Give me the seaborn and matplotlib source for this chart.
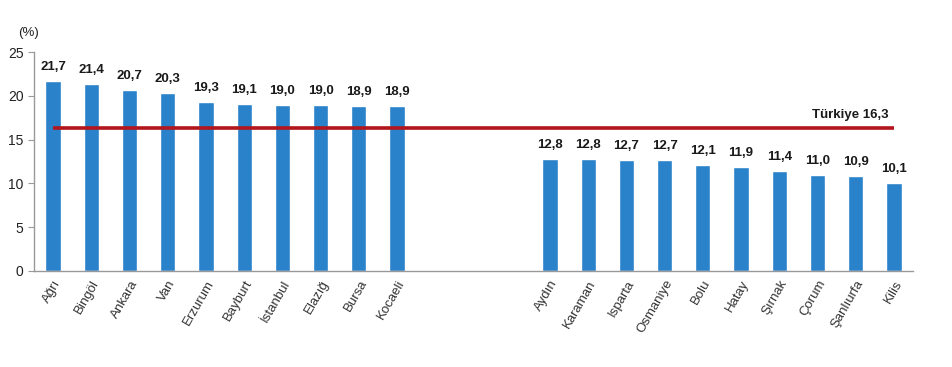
import pandas as pd
import numpy as np
import matplotlib.pyplot as plt
import seaborn as sns

# Veriler
iller_ust = ["Ağrı", "Bingöl", "Ankara", "Van", "Erzurum", "Bayburt", "İstanbul",
             "Elazığ", "Bursa", "Kocaeli"]
oran_ust = [21.7, 21.4, 20.7, 20.3, 19.3, 19.1, 19.0, 19.0, 18.9, 18.9]
iller_alt = ["Aydın", "Karaman", "Isparta", "Osmaniye", "Bolu", "Hatay", "Şırnak",
             "Çorum", "Şanlıurfa", "Kilis"]
oran_alt = [12.8, 12.8, 12.7, 12.7, 12.1, 11.9, 11.4, 11.0, 10.9, 10.1]
bosluk = [" ", "  ", "   "]
turkiye = 16.3

kategoriler = iller_ust + bosluk + iller_alt
degerler = oran_ust + [np.nan] * len(bosluk) + oran_alt
df = pd.DataFrame({"il": kategoriler, "oran": degerler})

sns.set_style("white")
plt.rcParams["font.family"] = ["Liberation Sans", "DejaVu Sans"]

fig = plt.figure(figsize=(9.53, 3.67), dpi=100)
ax = fig.add_axes([0.0357, 0.2616, 0.9223, 0.5964])

sns.barplot(data=df, x="il", y="oran", order=kategoriler, color="#2A82CA",
            width=0.4, saturation=1, ax=ax)

# Etiketler
for i, v in enumerate(degerler):
    if not np.isnan(v):
        ax.text(i, v + 0.9, f"{v:.1f}".replace(".", ","), ha="center", va="bottom",
                fontsize=9.5, fontweight="bold", color="#1a1a1a")

# Türkiye çizgisi
ax.plot([0, len(kategoriler) - 1], [turkiye, turkiye], color="#B2151B", lw=2.6,
        solid_capstyle="butt")
ax.text(len(kategoriler) - 1.15, turkiye + 0.8, f"Türkiye {turkiye:.1f}".replace(".", ","),
        ha="right", va="bottom", fontsize=9.5, fontweight="bold", color="#1a1a1a")

ax.set_xlim(-0.5, len(kategoriler) - 0.5)
ax.set_ylim(0, 25)
ax.set_yticks([0, 5, 10, 15, 20, 25])
ax.set_xlabel("")
ax.set_ylabel("")
ax.set_xticks(range(len(kategoriler)))
ax.set_xticklabels([k.strip() for k in kategoriler], rotation=60, ha="right",
                   rotation_mode="anchor", fontsize=9.5, color="#333333")
ax.set_xticks(np.arange(-0.5, len(kategoriler), 1), minor=True)
ax.tick_params(axis="x", which="major", length=0, pad=5)
ax.tick_params(axis="x", which="minor", length=4, color="#999999", direction="out")
ax.tick_params(axis="y", length=4, color="#999999", labelsize=10, labelcolor="#222222",
               direction="out", left=True)

for s in ["top", "right"]:
    ax.spines[s].set_visible(False)
for s in ["left", "bottom"]:
    ax.spines[s].set_color("#999999")
    ax.spines[s].set_linewidth(1)

fig.text(0.0294, 0.91, "(%)", fontsize=9.5, ha="center", va="center", color="#222222")

plt.savefig("out.png", dpi=100)
